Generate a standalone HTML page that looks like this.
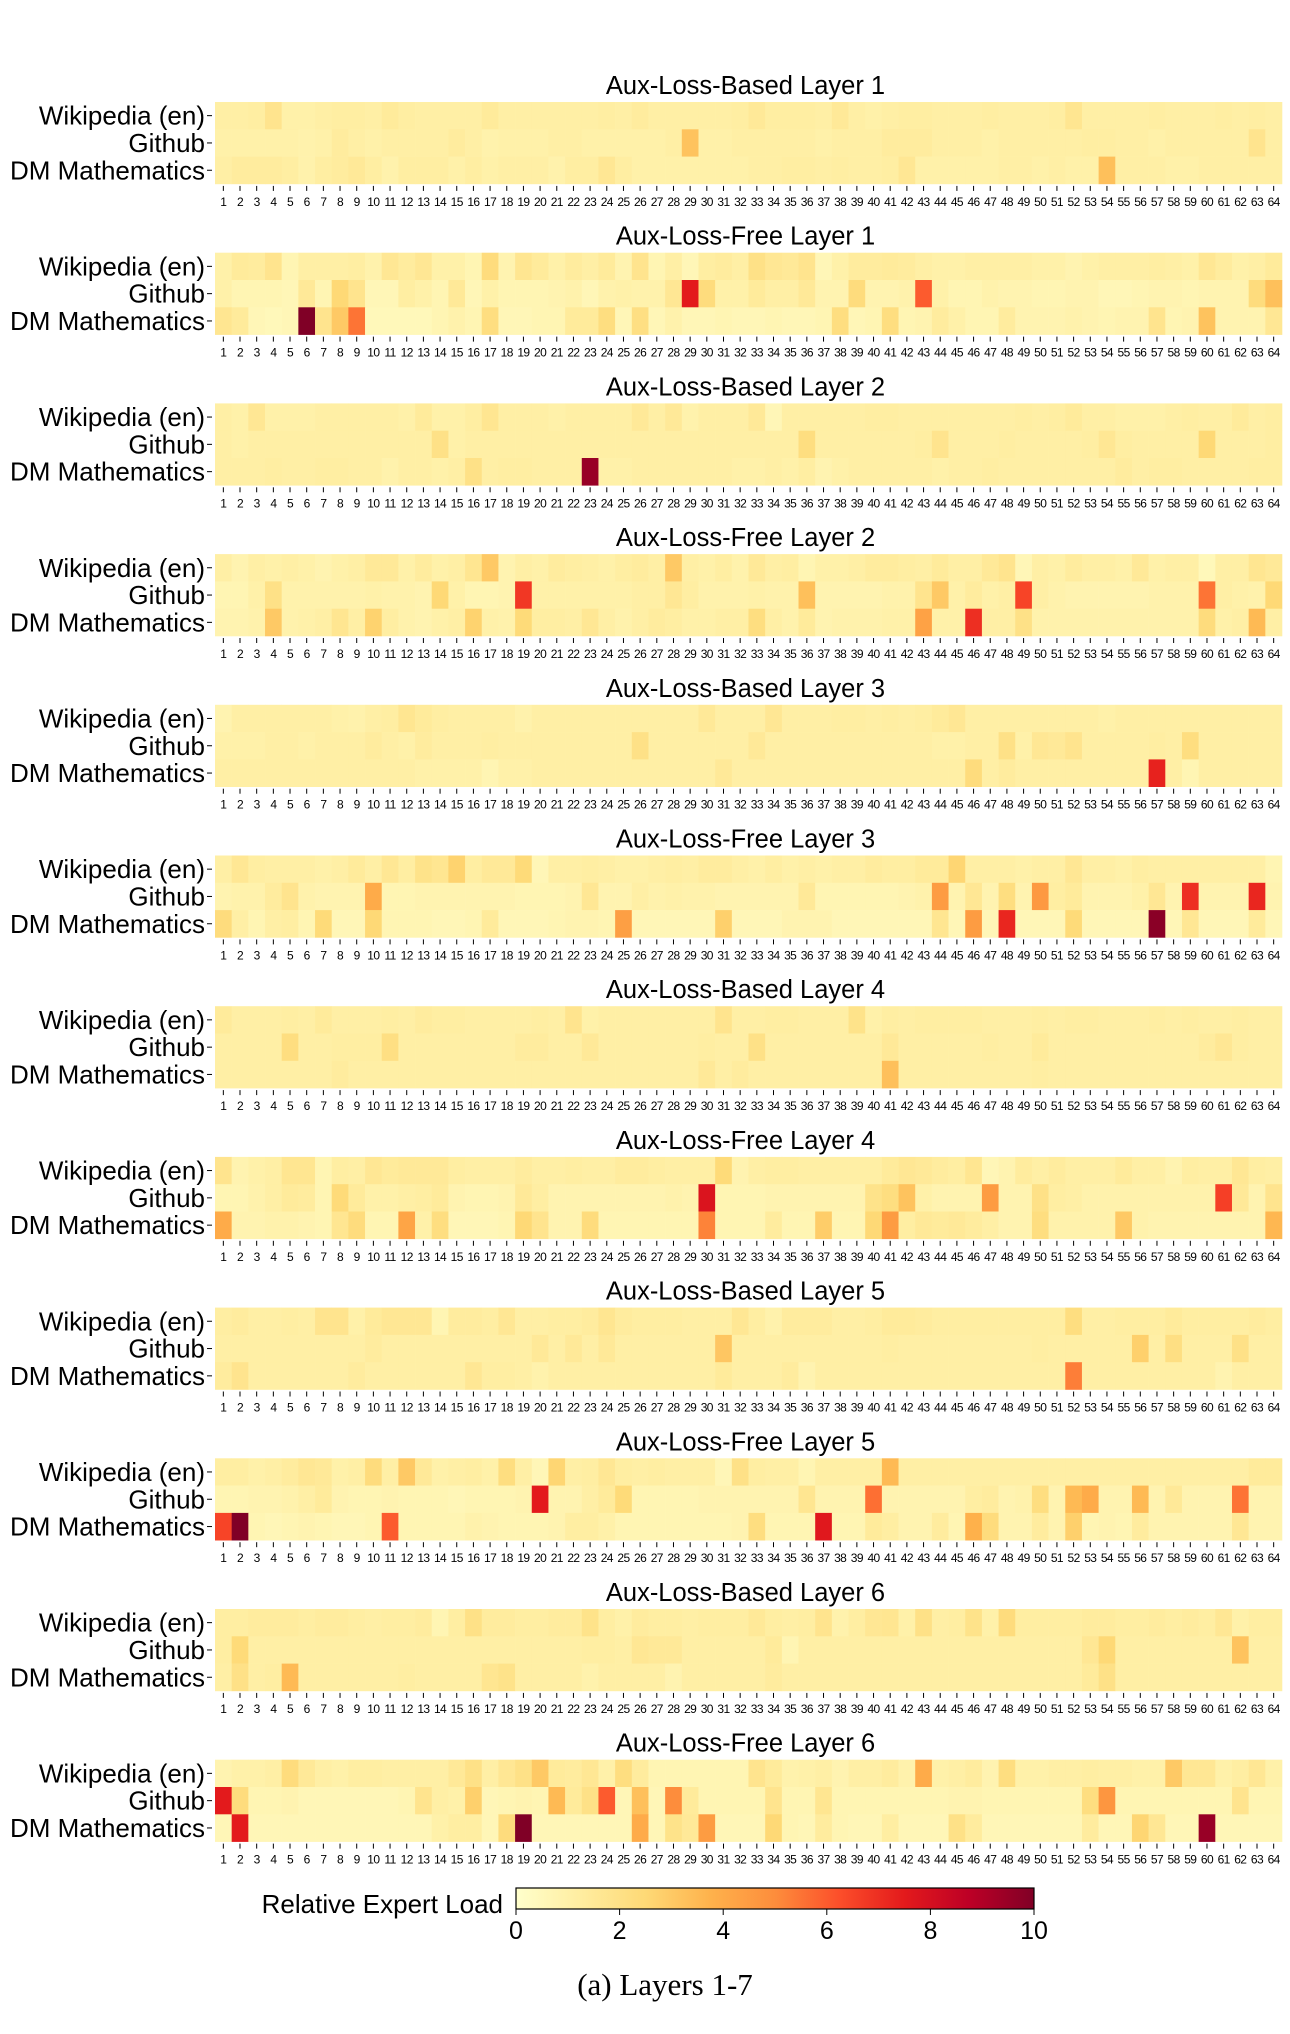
<!DOCTYPE html>
<html><head><meta charset="utf-8"><style>
html,body{margin:0;padding:0;background:#fff;}
svg{display:block;}
text{font-family:"Liberation Sans",sans-serif;fill:#000;}
</style></head><body>
<svg id="chart" width="1290" height="2034" viewBox="0 0 1290 2034" xmlns="http://www.w3.org/2000/svg">
<defs>
<linearGradient id="ylorrd" x1="0" x2="1" y1="0" y2="0">
<stop offset="0" stop-color="#ffffcc"/><stop offset="0.125" stop-color="#ffeda0"/><stop offset="0.25" stop-color="#fed976"/><stop offset="0.375" stop-color="#feb24c"/><stop offset="0.5" stop-color="#fd8d3c"/><stop offset="0.625" stop-color="#fc4e2a"/><stop offset="0.75" stop-color="#e31a1c"/><stop offset="0.875" stop-color="#bd0026"/><stop offset="1" stop-color="#800026"/>
</linearGradient>
</defs>
<g id="panels"></g>
<g id="colorbar"></g>
<text x="665" y="1995" text-anchor="middle" style="font-family:'Liberation Serif',serif;font-size:31px;">(a)  Layers 1-7</text>
</svg>
<script>
const rowNames = ["Wikipedia (en)", "Github", "DM Mathematics"];
const panelTitles = ["Aux-Loss-Based Layer 1","Aux-Loss-Free Layer 1","Aux-Loss-Based Layer 2","Aux-Loss-Free Layer 2","Aux-Loss-Based Layer 3","Aux-Loss-Free Layer 3","Aux-Loss-Based Layer 4","Aux-Loss-Free Layer 4","Aux-Loss-Based Layer 5","Aux-Loss-Free Layer 5","Aux-Loss-Based Layer 6","Aux-Loss-Free Layer 6"];
const colorbarTicks = [0, 2, 4, 6, 8, 10];
const p0 = [
[1.1,1.1,1.2,1.8,1.0,1.0,1.1,1.2, 1.2,1.1,1.4,1.2,1.1,1.1,1.1,1.1, 1.4,1.1,1.1,1.1,1.1,1.1,1.1,1.2, 1.1,1.3,1.1,1.1,1.1,1.1,1.1,1.2, 1.5,1.2,1.2,1.2,1.1,1.5,1.1,1.0, 1.1,1.2,1.2,1.1,1.1,1.1,1.2,1.1, 1.1,1.1,1.2,1.7,1.1,1.1,1.1,1.1, 1.2,1.1,1.1,1.1,1.2,1.1,1.2,1.1],
[1.0,1.0,1.0,1.0,1.0,0.9,1.0,1.3, 1.1,1.0,1.1,1.1,1.1,1.1,1.3,1.1, 0.9,1.0,1.0,1.0,1.1,1.1,1.0,1.0, 1.0,1.0,1.0,1.1,3.2,1.0,1.0,1.1, 1.1,1.1,1.1,1.1,1.0,1.1,1.1,1.1, 1.3,1.3,1.3,1.1,1.1,1.1,1.0,1.1, 1.1,1.1,1.1,1.1,1.2,1.2,1.1,1.1, 1.0,1.1,1.1,1.1,1.1,1.1,1.8,1.1],
[1.1,1.3,1.3,1.3,1.2,0.9,1.2,1.3, 1.5,1.2,0.9,1.2,1.2,1.2,1.0,1.2, 1.0,1.1,1.1,1.1,0.9,1.2,1.2,1.6, 1.2,1.0,1.0,1.0,1.0,1.0,1.0,1.0, 1.1,1.1,1.2,1.2,1.1,1.2,1.1,1.1, 1.2,1.6,1.0,1.0,1.0,1.0,1.0,1.1, 1.1,1.0,1.1,1.0,1.0,3.3,1.1,1.1, 1.1,1.0,1.0,1.1,1.1,1.1,1.1,1.1]];
const p1 = [
[1.0,1.4,1.3,1.8,0.7,1.1,1.1,1.1, 1.2,0.9,1.6,1.3,1.6,1.0,1.0,0.7, 2.3,0.8,1.7,1.4,1.0,1.3,1.1,1.4, 0.8,1.8,0.7,1.1,0.6,1.2,1.3,1.1, 2.0,1.6,1.5,1.8,0.6,1.0,1.3,1.3, 1.4,1.3,1.1,1.0,1.0,1.1,1.1,1.1, 1.1,1.0,1.0,0.8,1.0,1.1,1.1,1.1, 1.2,1.1,1.0,1.6,1.3,1.0,1.1,1.4],
[1.0,0.7,0.7,0.7,0.6,1.5,0.7,2.5, 1.8,0.6,0.6,1.2,1.0,0.7,1.5,0.6, 1.0,0.7,0.7,0.7,0.8,0.9,0.6,0.9, 1.0,0.9,0.9,1.6,7.5,2.3,1.0,1.0, 1.4,1.1,1.1,1.5,0.8,0.8,2.3,0.8, 0.8,0.9,6.0,1.0,0.7,0.7,0.9,0.8, 0.8,0.7,0.7,0.8,0.8,0.6,0.6,0.7, 0.8,0.8,0.7,0.8,0.8,0.8,2.3,3.3],
[1.7,1.4,0.6,0.5,0.6,10,1.8,3.0, 5.5,0.5,0.5,0.5,0.5,0.7,0.9,0.7, 2.2,0.6,0.6,0.7,0.7,1.4,1.4,2.2, 0.6,2.1,0.6,0.9,0.6,0.6,0.7,0.6, 0.6,0.7,0.6,0.6,0.7,2.2,0.6,0.7, 2.2,0.7,0.8,1.3,1.0,0.7,0.7,1.3, 0.8,0.8,0.8,0.9,0.8,0.7,0.8,0.8, 1.8,0.7,0.8,3.2,0.8,0.8,0.8,1.6]];
const p2 = [
[1.1,1.0,1.6,1.0,1.0,1.0,1.1,1.1, 1.1,1.1,1.1,1.0,1.4,1.0,1.0,1.2, 1.7,1.1,1.1,1.1,1.0,1.1,1.1,1.1, 1.1,1.5,1.1,1.5,0.9,1.1,1.1,1.1, 1.5,0.6,1.1,1.1,1.1,1.1,1.1,1.2, 1.2,1.1,1.1,1.1,1.1,1.1,1.1,1.1, 1.2,1.1,1.2,1.4,1.1,1.1,1.0,1.0, 1.0,1.1,1.2,1.1,1.1,1.4,1.1,1.2],
[1.1,1.0,1.1,1.1,1.1,1.1,1.1,1.1, 1.1,1.1,1.1,1.1,1.1,2.0,1.0,1.1, 1.1,1.1,1.1,1.1,1.1,1.1,1.1,1.1, 1.1,1.1,1.1,1.1,1.1,1.1,1.1,1.1, 1.1,1.1,1.1,2.2,1.1,1.1,1.1,1.1, 1.1,1.1,1.2,1.8,1.1,1.1,1.1,1.2, 1.1,1.1,1.1,1.1,1.2,1.6,1.2,1.1, 1.1,1.1,1.1,2.5,1.1,1.1,1.1,1.2],
[1.1,1.1,1.1,1.2,1.1,1.1,1.2,1.2, 1.1,1.1,0.9,1.1,1.1,1.0,1.1,2.0, 1.1,1.2,1.2,1.1,1.1,1.1,9.5,1.0, 1.0,1.1,1.1,1.1,1.1,1.1,1.1,1.0, 1.0,1.1,1.0,1.2,0.8,1.0,1.1,1.1, 1.1,1.1,1.1,1.0,1.1,1.1,1.2,1.1, 1.1,1.1,1.1,1.1,1.1,1.1,1.3,1.1, 1.2,1.2,1.1,1.1,1.1,1.1,1.2,1.2]];
const p3 = [
[1.1,0.8,1.1,1.0,1.1,1.0,0.8,1.0, 1.1,1.5,1.5,1.0,1.3,1.0,1.1,1.7, 3.0,0.8,1.1,1.0,1.3,1.2,1.1,1.0, 1.2,1.3,1.1,3.0,1.1,1.0,1.2,0.9, 1.5,1.1,1.2,0.7,1.0,1.0,1.1,1.3, 1.3,1.2,1.1,1.4,1.1,1.1,1.5,1.8, 0.6,1.1,1.0,1.3,1.1,1.1,1.0,1.5, 1.0,1.1,1.1,0.5,1.1,1.1,1.7,1.5],
[0.7,0.7,1.0,2.0,0.9,0.9,0.9,0.9, 0.9,1.0,0.9,0.9,0.8,2.5,1.0,0.7, 0.7,0.8,6.8,1.0,1.0,1.0,1.0,1.0, 1.0,1.1,1.1,1.6,1.2,0.9,0.9,0.9, 1.0,0.9,0.9,3.3,0.8,0.8,0.8,0.8, 0.9,0.9,1.8,3.0,1.0,1.3,1.0,1.1, 6.5,1.1,0.9,0.8,0.8,0.8,0.8,0.8, 0.9,0.9,0.9,5.5,1.1,1.0,0.9,2.5],
[0.8,0.8,0.9,3.0,0.9,1.0,1.1,1.7, 1.1,2.7,1.2,0.9,0.8,1.0,1.1,2.7, 1.0,0.9,2.4,1.2,1.2,1.1,1.6,1.1, 0.9,1.1,1.3,1.2,1.0,1.0,1.1,1.1, 2.2,1.1,0.9,1.4,0.8,0.9,0.9,0.9, 1.0,1.0,4.3,1.0,1.0,7.0,1.1,1.1, 2.0,0.9,0.9,0.9,0.9,0.9,0.9,0.9, 0.9,0.9,0.9,2.3,1.0,1.1,3.5,1.1]];
const p4 = [
[0.8,1.1,1.1,1.1,1.1,1.1,1.1,1.0, 0.9,1.1,1.2,1.7,1.4,1.2,1.1,1.1, 1.1,1.1,0.9,1.1,1.1,1.1,1.1,1.1, 1.1,1.1,1.1,1.1,1.1,1.5,1.1,1.1, 1.1,1.6,1.1,1.1,1.1,1.2,1.2,1.1, 1.2,1.1,1.2,1.4,1.6,1.1,1.1,1.1, 1.1,1.1,1.1,1.1,1.1,1.0,1.1,1.1, 1.1,1.1,1.1,1.1,1.1,1.1,1.1,1.1],
[1.0,1.0,1.0,1.1,1.1,1.0,1.1,1.1, 1.1,1.3,1.1,1.0,1.3,1.1,1.1,1.1, 1.2,1.1,1.1,1.1,1.1,1.1,1.1,1.1, 1.1,2.0,1.1,1.1,1.1,1.1,1.1,1.1, 1.5,1.1,1.1,1.1,1.1,1.1,1.1,1.1, 1.1,1.1,1.1,1.0,1.0,1.1,1.1,2.0, 1.0,1.6,1.5,1.8,1.1,1.1,1.1,1.1, 1.2,1.1,2.2,1.1,1.1,1.1,1.1,1.1],
[1.1,1.1,1.1,1.1,1.1,1.1,1.1,1.1, 1.1,1.1,1.1,1.1,1.0,1.0,1.0,1.0, 0.7,1.0,1.0,1.1,1.1,1.1,1.1,1.1, 1.1,1.1,1.1,1.1,1.1,1.1,1.5,1.1, 1.1,1.1,1.1,1.1,1.1,1.1,1.1,1.1, 1.1,1.1,1.1,1.1,1.1,2.3,1.1,1.3, 1.1,1.1,1.1,1.1,1.1,1.1,1.1,1.1, 7.3,1.1,0.7,1.1,1.1,1.1,1.1,1.1]];
const p5 = [
[1.1,1.6,1.2,1.1,1.1,1.1,1.0,1.1, 1.4,1.1,1.6,1.2,1.9,1.7,2.7,1.2, 1.5,1.5,2.4,0.6,1.1,1.1,1.2,1.1, 1.0,1.0,1.1,1.2,1.1,1.3,1.3,1.1, 1.0,1.2,1.0,1.1,1.0,1.1,1.1,1.3, 1.2,1.2,1.4,1.4,2.6,1.1,1.1,1.1, 1.0,1.1,1.1,1.6,1.1,1.1,1.0,1.2, 1.1,1.1,1.1,1.1,1.1,1.1,1.1,0.7],
[0.8,0.9,0.9,1.3,1.8,0.9,0.8,0.8, 0.8,4.0,0.7,0.7,0.8,0.8,0.8,0.8, 0.8,0.8,0.7,0.7,0.7,0.8,1.6,0.8, 0.8,1.1,0.9,1.0,0.9,0.9,0.8,0.8, 0.8,0.8,0.8,1.5,0.7,0.7,0.7,0.7, 0.7,0.8,0.9,4.5,0.8,1.6,0.8,2.2, 0.8,4.6,1.2,1.4,0.8,0.8,0.8,1.0, 1.6,0.8,7.0,0.8,0.8,0.8,7.2,0.8],
[2.3,1.1,0.7,1.1,1.2,0.7,2.4,0.6, 0.6,2.5,0.7,0.7,0.7,0.6,0.6,0.7, 1.4,0.6,0.6,0.6,0.7,0.8,0.8,0.7, 4.4,0.6,0.6,0.6,0.6,0.6,2.8,0.6, 0.6,0.6,0.8,0.8,0.8,0.6,0.6,0.6, 0.6,0.6,0.6,1.7,0.6,4.5,0.6,7.2, 0.6,0.6,0.6,2.4,0.6,0.6,0.6,0.6, 9.8,0.6,1.6,0.6,0.6,0.6,1.4,0.6]];
const p6 = [
[1.4,1.1,1.1,1.1,1.2,1.1,1.4,1.1, 1.1,1.1,1.2,1.1,1.3,1.2,1.2,1.1, 1.1,1.1,1.1,1.2,1.1,1.8,1.0,1.1, 1.1,1.1,1.1,1.1,1.1,1.1,1.8,1.1, 1.1,1.2,1.2,1.1,1.1,1.1,1.9,1.0, 1.2,1.1,1.2,1.2,1.2,1.2,1.1,1.1, 1.1,1.2,1.1,1.2,1.2,1.1,1.1,1.1, 1.2,1.1,1.2,1.1,1.1,1.2,1.1,1.1],
[1.1,1.1,1.1,1.1,2.2,1.1,1.1,1.2, 1.2,1.2,2.1,1.1,1.1,1.1,1.1,1.1, 1.1,1.1,1.3,1.3,1.1,1.1,1.5,1.1, 1.1,1.1,1.1,1.1,1.1,1.2,1.1,1.1, 2.0,1.1,1.1,1.1,1.1,1.1,1.1,1.1, 1.5,1.1,1.1,1.1,1.1,1.1,1.2,1.1, 1.1,1.4,1.1,1.1,1.1,1.1,1.1,1.1, 1.1,1.1,1.1,1.3,1.6,1.2,1.1,1.1],
[1.1,1.1,1.1,1.1,1.1,1.1,1.1,1.3, 1.1,1.1,1.1,1.1,1.1,1.1,1.1,1.1, 1.1,1.1,1.1,1.1,1.1,1.1,1.1,1.1, 1.1,1.1,1.1,1.1,1.1,1.5,1.1,1.3, 1.1,1.1,1.1,1.1,1.1,1.1,1.1,1.1, 3.3,1.1,1.1,1.1,1.1,1.1,1.1,1.1, 1.1,1.2,1.1,1.1,1.1,1.1,1.1,1.1, 1.1,1.1,1.1,1.1,1.1,1.1,1.1,1.1]];
const p7 = [
[1.8,0.8,1.0,1.1,1.7,1.7,0.7,1.2, 1.1,1.6,1.4,1.5,1.5,1.5,1.2,1.1, 1.1,1.1,1.3,1.1,1.1,1.2,1.1,1.1, 1.3,1.3,1.2,1.1,1.1,1.1,2.4,0.8, 1.1,1.2,1.2,1.1,1.1,1.1,1.1,1.1, 1.4,1.6,1.5,1.3,1.2,1.7,0.6,0.8, 1.3,1.1,1.3,1.1,1.1,1.1,1.4,1.1, 1.1,0.8,1.2,1.1,1.1,1.6,1.2,1.1],
[0.7,0.7,0.9,1.1,1.4,1.3,0.7,2.4, 1.4,1.0,1.0,1.1,1.2,1.4,0.8,0.7, 0.7,0.8,1.5,1.2,0.8,0.8,0.8,0.8, 0.8,0.8,0.8,0.9,0.8,7.8,0.7,0.7, 0.7,0.8,0.8,0.8,0.8,0.8,0.8,1.9, 2.2,3.2,1.0,0.8,0.8,0.8,4.5,0.8, 0.8,2.0,1.2,1.1,0.9,0.9,0.9,0.9, 0.9,0.9,0.9,0.9,6.6,1.5,0.8,1.8],
[4.0,0.8,0.8,0.9,0.9,0.8,0.7,1.7, 2.3,0.7,0.7,4.2,1.0,2.2,0.6,0.6, 0.6,0.7,2.5,1.8,0.8,0.8,2.3,0.7, 0.7,0.7,0.7,0.7,0.7,5.2,0.7,0.7, 0.7,1.3,0.7,0.7,2.9,0.7,0.7,2.5, 4.5,1.2,1.5,1.4,1.5,1.3,1.1,0.8, 0.8,2.2,0.9,0.9,0.9,0.9,3.0,0.9, 0.8,0.8,0.8,0.8,0.8,0.8,0.8,3.6]];
const p8 = [
[1.2,1.3,1.1,1.1,1.2,1.1,1.8,1.8, 1.0,1.4,1.6,1.6,1.6,0.7,1.3,1.3, 1.2,1.6,1.1,1.1,1.2,1.2,1.3,1.7, 1.3,1.2,1.2,1.2,1.1,1.1,1.1,1.6, 1.2,0.9,1.3,1.3,1.3,1.1,1.1,1.2, 1.4,1.4,1.3,1.2,1.2,1.2,1.2,1.2, 1.2,1.2,1.2,2.2,1.1,1.1,1.2,1.2, 1.2,1.4,1.2,1.2,1.2,1.2,1.3,1.2],
[1.1,1.1,1.1,1.1,1.1,1.1,1.1,1.1, 1.1,1.3,1.1,1.1,1.1,1.1,1.1,1.1, 1.1,1.1,1.1,1.5,1.1,1.5,1.1,1.5, 1.1,1.1,1.1,1.1,1.1,1.1,3.1,1.1, 1.1,1.1,1.1,1.1,1.1,1.1,1.1,1.1, 1.2,1.1,1.1,1.1,1.1,1.1,1.1,1.1, 1.1,1.2,1.1,1.1,1.1,1.1,1.1,2.8, 1.1,2.1,1.1,1.1,1.1,2.0,1.1,1.1],
[1.3,1.8,1.1,1.1,1.1,1.1,1.1,1.1, 1.3,1.1,1.1,1.1,1.1,1.1,1.1,1.6, 1.2,1.2,1.1,0.9,1.1,1.1,1.1,1.1, 1.1,1.1,1.1,1.1,1.1,1.1,1.4,1.1, 1.1,1.1,1.3,0.8,1.1,1.1,1.1,1.1, 1.1,1.1,1.1,1.1,1.1,1.1,1.1,1.1, 1.1,1.1,1.1,5.3,1.1,1.1,1.1,1.1, 1.1,1.1,1.1,1.1,0.8,1.1,1.1,1.1]];
const p9 = [
[1.2,1.2,1.0,1.1,1.3,1.6,1.5,1.0, 1.1,2.3,1.1,3.0,1.5,1.0,1.1,1.2, 1.0,2.2,1.1,0.6,2.6,1.1,1.2,1.6, 1.2,1.1,1.2,1.1,1.1,1.1,0.6,2.0, 1.2,1.1,1.1,0.7,1.1,1.1,1.1,1.1, 3.5,1.1,1.1,1.1,1.1,1.1,1.1,1.1, 1.1,1.1,1.1,1.1,1.1,1.1,1.1,1.1, 1.1,1.1,1.1,1.1,1.1,1.1,1.4,1.4],
[0.7,0.7,0.8,0.8,0.9,1.1,1.4,0.8, 0.7,0.7,0.8,0.7,0.7,0.7,0.6,0.7, 0.7,0.7,0.8,7.5,0.8,0.8,1.1,1.4, 2.4,0.7,0.7,0.7,0.7,0.8,0.8,0.8, 0.8,0.8,0.8,1.7,0.8,0.8,0.8,5.6, 0.8,0.8,0.8,0.8,0.8,1.2,1.3,0.8, 0.9,2.2,0.8,3.5,4.0,0.8,0.8,3.5, 0.8,1.5,0.8,0.8,0.8,5.5,0.8,0.8],
[6.5,10,0.7,0.6,0.7,0.8,0.7,0.6, 0.6,0.7,6.0,0.7,0.7,0.7,0.7,0.9, 0.8,0.7,0.7,0.7,0.8,1.2,1.2,1.0, 0.7,0.7,0.7,0.7,0.7,0.7,0.7,0.8, 2.2,0.7,0.7,0.7,7.6,0.7,0.7,1.4, 1.2,0.8,0.8,1.3,0.7,3.8,2.3,0.8, 0.8,1.3,0.8,2.8,0.7,0.8,0.7,1.3, 0.8,0.8,0.8,0.8,0.8,1.6,0.8,0.8]];
const p10 = [
[1.2,1.2,1.3,1.3,1.3,1.2,1.3,1.3, 1.2,1.1,1.2,1.2,1.3,0.7,1.2,2.0, 1.3,1.3,1.2,1.2,1.3,1.3,1.9,1.2, 1.0,1.3,1.2,1.2,1.1,1.2,1.2,1.2, 1.5,1.2,1.1,1.2,1.8,0.9,1.2,1.6, 1.7,1.0,2.0,1.1,1.2,1.9,1.0,2.3, 1.2,1.2,1.2,1.2,1.3,1.3,1.2,1.2, 1.3,1.2,1.3,1.2,1.6,1.0,1.2,1.2],
[1.2,2.4,1.1,1.1,1.1,1.1,1.1,1.1, 1.1,1.1,1.1,1.1,1.1,1.1,1.1,1.1, 1.1,1.1,1.1,1.1,1.1,1.1,1.2,1.2, 1.1,1.6,1.5,1.5,1.1,1.1,1.1,1.1, 1.1,1.4,0.7,1.1,1.1,1.1,1.1,1.1, 1.1,1.1,1.1,1.1,1.1,1.1,1.1,1.1, 1.1,1.1,1.1,1.1,1.6,2.5,1.1,1.1, 1.1,1.1,1.1,1.1,1.1,3.2,1.1,1.1],
[1.1,2.0,1.1,1.2,3.5,1.1,1.1,1.1, 1.1,1.1,1.1,1.2,1.1,1.1,1.1,1.1, 1.7,1.9,1.1,1.1,1.1,1.1,0.9,1.1, 1.1,1.1,1.1,0.8,1.1,1.1,1.1,1.1, 1.1,1.3,1.1,1.1,1.1,1.1,1.1,1.1, 1.1,1.1,1.1,1.1,1.1,1.1,1.1,1.1, 1.1,1.1,1.1,1.1,1.4,2.0,1.1,1.1, 1.1,1.1,1.1,1.1,1.1,1.1,1.1,1.1]];
const p11 = [
[0.8,1.0,1.0,1.1,2.3,1.5,1.1,1.0, 1.2,1.2,1.1,1.1,1.1,1.1,1.5,2.0, 1.1,1.6,2.0,3.0,1.4,1.3,1.6,1.0, 2.2,1.3,0.7,0.7,0.7,0.7,0.7,0.7, 1.8,1.4,0.9,1.0,1.1,0.8,1.1,1.1, 1.3,0.9,4.0,1.0,1.1,1.3,0.8,2.2, 1.0,1.0,1.1,1.1,1.2,1.1,1.1,1.0, 1.0,3.0,1.6,1.6,1.0,1.2,1.6,1.0],
[7.5,2.3,0.7,0.7,0.8,0.6,0.6,0.6, 0.6,0.6,0.6,0.7,1.8,1.1,1.0,2.8, 0.6,0.7,0.8,0.7,3.5,1.4,2.0,6.0, 0.6,3.3,0.6,5.0,1.4,0.7,0.7,0.7, 0.7,1.8,0.7,0.7,1.7,0.7,0.7,0.7, 0.7,0.7,0.7,0.7,0.8,0.8,0.7,0.7, 0.7,0.7,0.7,0.7,2.2,4.7,0.7,0.7, 0.7,0.7,0.7,0.7,0.7,1.8,0.7,0.7],
[0.6,7.5,0.6,0.6,0.6,0.6,0.6,0.6, 0.6,0.6,0.6,0.6,0.6,1.0,1.2,1.2, 0.6,2.3,10,0.6,0.6,0.6,0.6,0.6, 0.6,4.0,0.6,1.9,1.5,4.5,0.6,0.6, 0.6,2.5,0.7,0.6,1.3,0.7,0.6,0.6, 1.2,0.6,0.6,0.6,2.0,1.3,0.6,0.6, 0.6,0.6,0.6,0.6,1.3,0.6,0.6,2.6, 1.6,0.6,0.6,9.5,0.6,0.6,0.6,0.6]];
const panels = [p0,p1,p2,p3,p4,p5,p6,p7,p8,p9,p10,p11];

const NS = "http://www.w3.org/2000/svg";
const X0 = 215, X1 = 1282, ROW_H = 27.3, PANEL_TOP = 102, PANEL_STEP = 150.7;
const VMIN = 0, VMAX = 10;
const stops = ["#ffffcc","#ffeda0","#fed976","#feb24c","#fd8d3c","#fc4e2a","#e31a1c","#bd0026","#800026"];
function hex(c){return [parseInt(c.substr(1,2),16),parseInt(c.substr(3,2),16),parseInt(c.substr(5,2),16)];}
function color(v){
  let t = Math.max(0, Math.min(1, (v - VMIN) / (VMAX - VMIN))) * (stops.length - 1);
  let i = Math.min(stops.length - 2, Math.floor(t)), f = t - i;
  const a = hex(stops[i]), b = hex(stops[i+1]);
  return "rgb(" + a.map((x,k)=>Math.round(x + (b[k]-x)*f)).join(",") + ")";
}
function xScale(i, n){ return X0 + (X1 - X0) * i / n; }
function mk(tag, attrs, parent){
  const e = document.createElementNS(NS, tag);
  for (const k in attrs) e.setAttribute(k, attrs[k]);
  parent.appendChild(e); return e;
}
const root = document.getElementById("panels");
panels.forEach((rows, p) => {
  const top = PANEL_TOP + PANEL_STEP * p;
  const n = rows[0].length;
  const g = mk("g", {}, root);
  
  
  const t = mk("text", {x: (X0+X1)/2 - 3, y: top - 8, "text-anchor": "middle", "font-size": 25.5}, g);
  
  
  t.textContent = panelTitles[p];
  rows.forEach((vals, r) => {
    const y = top + ROW_H * r;
    vals.forEach((v, i) => {
      const x = xScale(i, n);
      const c = mk("rect", {x: x, y: y, width: xScale(i+1, n) - x + 0.3, height: ROW_H + 0.3, fill: color(v)}, g);
      
      
    });
    const lb = mk("text", {x: 205, y: y + ROW_H/2 + 9, "text-anchor": "end", "font-size": 26}, g);
    
    
    lb.textContent = rowNames[r];
    mk("line", {x1: 207, x2: 212, y1: y + ROW_H/2, y2: y + ROW_H/2, stroke: "#000", "stroke-width": 1}, g);
  });
  const yb = top + ROW_H * 3;
  for (let i = 0; i < n; i++) {
    const cx = (xScale(i, n) + xScale(i+1, n)) / 2;
    mk("line", {x1: cx, x2: cx, y1: yb + 2, y2: yb + 7, stroke: "#000", "stroke-width": 1}, g);
    const tl = mk("text", {x: cx, y: yb + 22, "text-anchor": "middle", "font-size": 12, "letter-spacing": "-0.6"}, g);
    
    
    tl.textContent = String(i + 1);
  }
});
// colorbar
const cb = document.getElementById("colorbar");
const CB_X0 = 516, CB_X1 = 1034, CB_Y = 1888, CB_H = 21;
mk("rect", {x: CB_X0, y: CB_Y, width: CB_X1 - CB_X0, height: CB_H, fill: "url(#ylorrd)", stroke: "#000", "stroke-width": 1.2}, cb);
function cbScale(v){ return CB_X0 + (CB_X1 - CB_X0) * (v - VMIN) / (VMAX - VMIN); }
colorbarTicks.forEach(v => {
  const x = cbScale(v);
  mk("line", {x1: x, x2: x, y1: CB_Y + CB_H, y2: CB_Y + CB_H + 6, stroke: "#000", "stroke-width": 1}, cb);
  const tl = mk("text", {x: x, y: CB_Y + CB_H + 30, "text-anchor": "middle", "font-size": 25}, cb);
  
  
  tl.textContent = String(v);
});
const cbl = mk("text", {x: 503, y: 1913, "text-anchor": "end", "font-size": 26}, cb);


cbl.textContent = "Relative Expert Load";
</script>
</body></html>
